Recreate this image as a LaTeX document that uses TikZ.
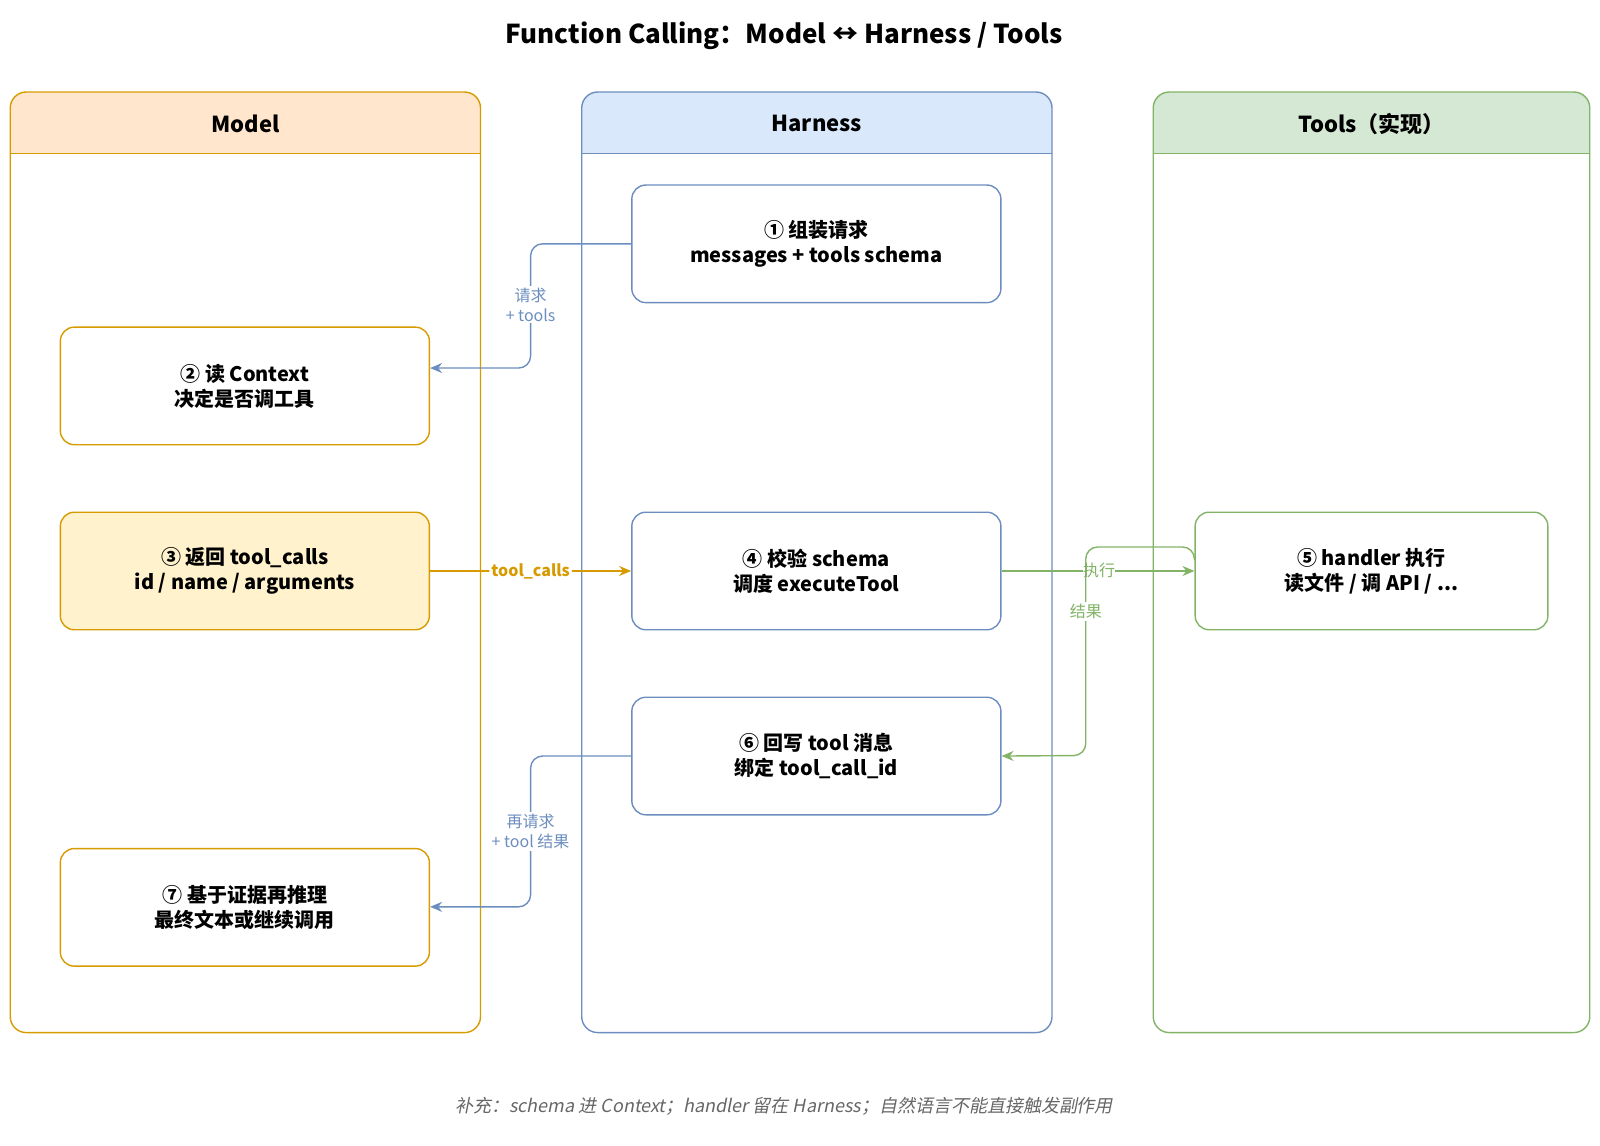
\documentclass[tikz,border=0pt]{standalone}
\usepackage{fontspec}
\setmainfont{Noto Sans CJK SC}
\newfontfamily\slfont{Noto Sans CJK SC}[FakeSlant=0.2]
\usetikzlibrary{arrows.meta}
\definecolor{oS}{HTML}{D79B00}\definecolor{oF}{HTML}{FFE6CC}\definecolor{oY}{HTML}{FFF2CC}
\definecolor{bS}{HTML}{6C8EBF}\definecolor{bF}{HTML}{DAE8FC}
\definecolor{gS}{HTML}{82B366}\definecolor{gF}{HTML}{D5E8D4}
\begin{document}
\begin{tikzpicture}[x=0.5112pt,y=-0.5112pt,
 lane/.style={draw=#1,line width=0.7pt,rounded corners=8pt},
 box/.style={draw=#1,line width=0.7pt,rounded corners=7pt,fill=white,align=center,font=\bfseries\fontsize{10}{12.5}\selectfont},
 lab/.style={font=\fontsize{8}{10}\selectfont,align=center,fill=white,inner sep=1pt},
 arr/.style={draw=#1,line width=0.7pt,rounded corners=6pt,-{Stealth[length=6pt,width=5pt]}}]
\useasboundingbox (0,0) rectangle (1565,1120);
\node[font=\bfseries\fontsize{13}{15}\selectfont] (title) at (767,35) {Function Calling：Model ↔ Harness / Tools};
% lanes
\foreach \xa/\xb/\s/\f/\t [count=\i] in {10/470/oS/oF/Model,569/1029/bS/bF/Harness,1128/1555/gS/gF/Tools（实现）}{
 \begin{scope}
 \clip[rounded corners=8pt] (\xa,90) rectangle (\xb,1010);
 \fill[\f] (\xa,90) rectangle (\xb,150);
 \end{scope}
 \draw[lane=\s] (\xa,90) rectangle (\xb,1010);
 \draw[\s,line width=0.7pt] (\xa,150) -- (\xb,150);
 \node[font=\bfseries\fontsize{11}{13}\selectfont] (h\i) at ({(\xa+\xb)/2},121) {\t};
}
\node[box=bS,minimum width=361*0.5112pt,minimum height=115*0.5112pt] (s1) at (798.5,238.5) {① 组装请求\\messages + tools schema};
\node[box=oS,minimum width=361*0.5112pt,minimum height=115*0.5112pt] (s2) at (239.5,377.5) {② 读 Context\\决定是否调工具};
\node[box=oS,fill=oY,minimum width=361*0.5112pt,minimum height=115*0.5112pt] (s3) at (239.5,558.5) {③ 返回 tool\_calls\\id / name / arguments};
\node[box=bS,minimum width=361*0.5112pt,minimum height=115*0.5112pt] (s4) at (798.5,558.5) {④ 校验 schema\\调度 executeTool};
\node[box=gS,minimum width=345*0.5112pt,minimum height=115*0.5112pt] (s5) at (1341.5,558.5) {⑤ handler 执行\\读文件 / 调 API / ...};
\node[box=bS,minimum width=361*0.5112pt,minimum height=115*0.5112pt] (s6) at (798.5,739.5) {⑥ 回写 tool 消息\\绑定 tool\_call\_id};
\node[box=oS,minimum width=361*0.5112pt,minimum height=115*0.5112pt] (s7) at (239.5,887.5) {⑦ 基于证据再推理\\最终文本或继续调用};
% connectors
\draw[arr=bS] (s1.west) -| (519,298) |- (s2.east |- 0,360);
\node[lab,text=bS] (l1) at (519,298) {请求\\+ tools};
\draw[arr=oS] (s3) -- (s4) node[midway,lab,text=oS,font=\bfseries\fontsize{8}{10}\selectfont] (l2) {tool\_calls};
\draw[arr=gS] (s4) -- (s5);
\node[lab,text=gS,inner sep=0pt] (l3) at (1075,558) {执行};
\draw[arr=gS] (s5.west |- 0,548) -- ++(0,-13) -- (1062,535) -- (1062,739) -- (s6.east);
\node[lab,text=gS] (l4) at (1062,598) {结果};
\draw[arr=bS] (s6.west) -| (519,813) |- (s7.east |- 0,887);
\node[lab,text=bS] (l5) at (519,813) {再请求\\+ tool 结果};
\node[text=black!60,font=\slfont\fontsize{9}{11}\selectfont] (foot) at (767,1082) {补充：schema 进 Context；handler 留在 Harness；自然语言不能直接触发副作用};
\end{tikzpicture}
\end{document}
